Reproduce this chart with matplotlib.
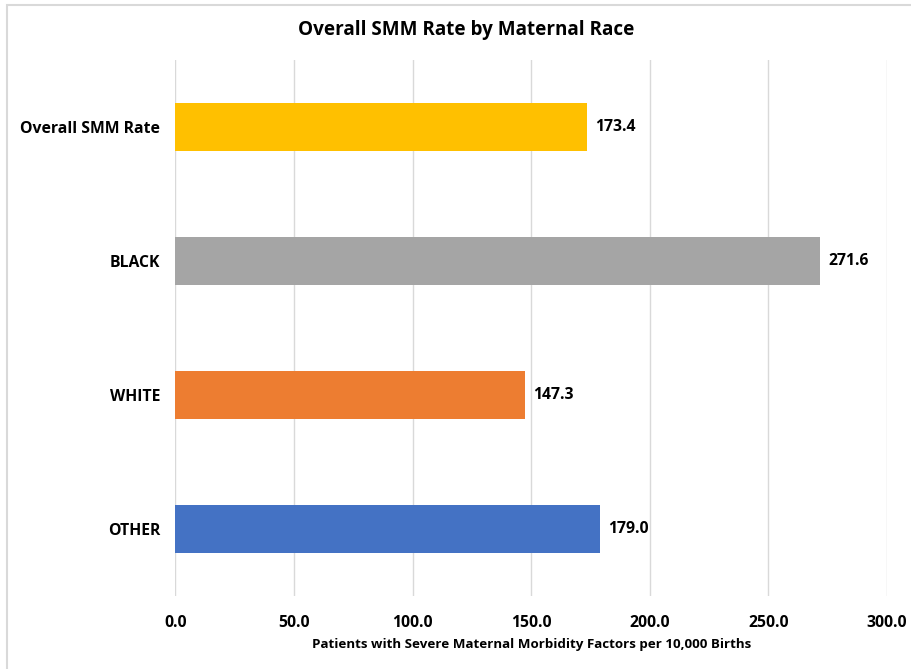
import matplotlib
matplotlib.use("Agg")
import matplotlib.pyplot as plt
from matplotlib.patches import Rectangle

categories = ["Overall SMM Rate", "BLACK", "WHITE", "OTHER"]
values = [173.4, 271.6, 147.3, 179.0]
colors = ["#FFC000", "#A5A5A5", "#ED7D31", "#4472C4"]
xticks = [0, 50, 100, 150, 200, 250, 300]
title = "Overall SMM Rate by Maternal Race"
xlabel = "Patients with Severe Maternal Morbidity Factors per 10,000 Births"

plt.rcParams['font.family'] = ['Open Sans', 'DejaVu Sans']

W, H = 912, 669
fig = plt.figure(figsize=(W / 100, H / 100), dpi=100)
ax = fig.add_axes([175.5 / W, 1 - 596 / H, (887 - 175.5) / W, (596 - 60) / H])

ypos = list(range(len(categories)))
ax.barh(ypos, values, height=0.36, color=colors, zorder=3)
ax.set_ylim(len(categories) - 0.5, -0.5)
ax.set_xlim(0, 300)
ax.set_yticks(ypos)
ax.set_yticklabels(categories, fontsize=11.3, fontweight='bold', color='#000000')
ax.set_xticks(xticks)
ax.set_xticklabels([f"{t:.1f}" for t in xticks], fontsize=11.3, fontweight='bold')
ax.tick_params(axis='both', length=0)
ax.tick_params(axis='y', pad=11)
ax.tick_params(axis='x', pad=14)
ax.grid(axis='x', color='#D9D9D9', linewidth=1, zorder=0)
for s in ax.spines.values():
    s.set_visible(False)

for y, v in zip(ypos, values):
    ax.text(v + 3.5, y, f"{v:.1f}", va='center', ha='left', fontsize=11.3, fontweight='bold', color='#000000')

ax.set_xlabel(xlabel, fontsize=9.6, fontweight='bold', labelpad=5)
fig.text(466 / W, 1 - 30 / H, title, ha='center', va='center', fontsize=13.6, fontweight='bold')

fig.patches.append(Rectangle((7 / W, -0.1), 1.2, 1 - 5 / H + 0.1, transform=fig.transFigure,
                             fill=False, edgecolor='#D9D9D9', linewidth=1.5))

fig.savefig("out.png", dpi=100)
